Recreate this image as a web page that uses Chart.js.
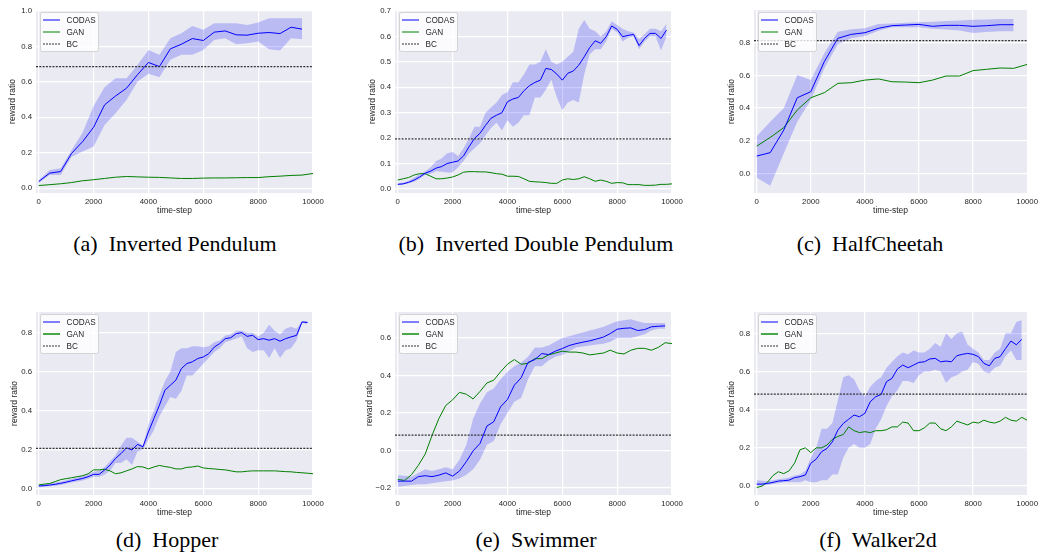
<!DOCTYPE html>
<html>
<head>
<meta charset="utf-8">
<script src="https://cdn.jsdelivr.net/npm/chart.js@4/dist/chart.umd.min.js"></script>
<style>
body { margin: 0; background: #fff; width: 1042px; height: 555px; position: relative; overflow: hidden; }
.panel { position: absolute; }
.cap { position: absolute; font-family: "Liberation Serif", "Times New Roman", serif; font-size: 22px; line-height: 1; color: #000; white-space: pre; transform: translateX(-50%); }
</style>
</head>
<body>
<div class="panel" style="left:0px;top:0px"><canvas id="pend" width="335" height="222"></canvas></div>
<div class="panel" style="left:350px;top:0px"><canvas id="dpend" width="340" height="222"></canvas></div>
<div class="panel" style="left:700px;top:0px"><canvas id="cheetah" width="342" height="222"></canvas></div>
<div class="panel" style="left:0px;top:300px"><canvas id="hopper" width="335" height="222"></canvas></div>
<div class="panel" style="left:350px;top:300px"><canvas id="swimmer" width="340" height="222"></canvas></div>
<div class="panel" style="left:700px;top:300px"><canvas id="walker" width="342" height="222"></canvas></div>

<div class="cap" style="left:175px;top:233px">(a)  Inverted Pendulum</div>
<div class="cap" style="left:536px;top:233px">(b)  Inverted Double Pendulum</div>
<div class="cap" style="left:870px;top:233px">(c)  HalfCheetah</div>
<div class="cap" style="left:167px;top:529px">(d)  Hopper</div>
<div class="cap" style="left:536px;top:529px">(e)  Swimmer</div>
<div class="cap" style="left:878px;top:529px">(f)  Walker2d</div>

<script>
// time steps (x values)
const steps400 = [0,400,800,1200,1600,2000,2400,2800,3200,3600,4000,4400,4800,5200,5600,6000,6400,6800,7200,7600,8000,8400,8800,9200,9600];
const steps400End = [...steps400, 10000];
const steps200 = [0,200,400,600,800,1000,1200,1400,1600,1800,2000,2200,2400,2600,2800,3000,3200,3400,3600,3800,4000,4200,4400,4600,4800,5000,5200,5400,5600,5800,6000,6200,6400,6600,6800,7000,7200,7400,7600,7800,8000,8200,8400,8600,8800,9000,9200,9400,9600,9800];
const steps200End = [...steps200, 10000];
const steps500 = [0,500,1000,1500,2000,2500,3000,3500,4000,4500,5000,5500,6000,6500,7000,7500,8000,8500,9000,9500];
const steps500End = [...steps500, 10000];
const steps250 = [0,250,500,750,1000,1250,1500,1750,2000,2250,2500,2750,3000,3250,3500,3750,4000,4250,4500,4750,5000,5250,5500,5750,6000,6250,6500,6750,7000,7250,7500,7750,8000,8250,8500,8750,9000,9250,9500,9750];
const steps250End = [...steps250, 10000];

// (a) Inverted Pendulum
const pendCodas = [0.038,0.085,0.094,0.197,0.263,0.344,0.47,0.52,0.564,0.64,0.709,0.686,0.786,0.812,0.844,0.833,0.88,0.887,0.865,0.863,0.874,0.878,0.872,0.908,0.897];
const pendHi = [0.045,0.103,0.113,0.216,0.314,0.464,0.57,0.62,0.62,0.695,0.78,0.752,0.846,0.874,0.915,0.893,0.93,0.93,0.93,0.921,0.934,0.959,0.959,0.959,0.959];
const pendLo = [0.03,0.075,0.075,0.178,0.207,0.235,0.357,0.423,0.498,0.60,0.645,0.626,0.724,0.752,0.752,0.78,0.836,0.846,0.812,0.818,0.827,0.784,0.776,0.846,0.84];
const pendGan = [0.015,0.02,0.025,0.032,0.042,0.048,0.055,0.062,0.066,0.064,0.062,0.061,0.058,0.055,0.055,0.057,0.058,0.058,0.059,0.06,0.06,0.065,0.068,0.072,0.074,0.083];
const pendBc = 0.686;

// (b) Inverted Double Pendulum
const dpendCodas = [0.018,0.02,0.026,0.035,0.047,0.062,0.07,0.082,0.088,0.10,0.105,0.11,0.13,0.166,0.199,0.219,0.25,0.278,0.29,0.30,0.343,0.354,0.36,0.386,0.406,0.419,0.428,0.474,0.47,0.452,0.428,0.455,0.464,0.487,0.52,0.556,0.583,0.573,0.599,0.641,0.628,0.599,0.604,0.608,0.564,0.592,0.612,0.612,0.592,0.625];
const dpendHi = [0.022,0.025,0.032,0.045,0.058,0.07,0.085,0.11,0.12,0.14,0.145,0.13,0.16,0.2,0.245,0.245,0.30,0.32,0.34,0.37,0.38,0.42,0.42,0.45,0.49,0.49,0.5,0.55,0.5,0.49,0.5,0.52,0.54,0.63,0.665,0.63,0.62,0.6,0.62,0.66,0.645,0.63,0.62,0.615,0.59,0.61,0.63,0.63,0.62,0.65];
const dpendLo = [0.015,0.017,0.022,0.028,0.04,0.055,0.06,0.07,0.068,0.065,0.065,0.085,0.11,0.14,0.16,0.18,0.21,0.24,0.26,0.23,0.27,0.245,0.26,0.29,0.29,0.36,0.36,0.39,0.43,0.36,0.31,0.34,0.35,0.34,0.45,0.53,0.55,0.55,0.58,0.63,0.615,0.58,0.595,0.60,0.55,0.58,0.6,0.6,0.545,0.6];
const dpendGan = [0.035,0.04,0.045,0.055,0.06,0.06,0.05,0.04,0.04,0.043,0.047,0.055,0.066,0.068,0.068,0.067,0.067,0.064,0.06,0.058,0.05,0.05,0.049,0.04,0.03,0.028,0.027,0.025,0.022,0.022,0.035,0.04,0.037,0.04,0.048,0.04,0.03,0.035,0.03,0.022,0.025,0.024,0.017,0.017,0.017,0.014,0.014,0.015,0.018,0.018,0.02];
const dpendBc = 0.197;

// (c) HalfCheetah
const cheetahCodas = [0.106,0.127,0.265,0.463,0.5,0.684,0.827,0.851,0.861,0.888,0.904,0.908,0.912,0.90,0.906,0.906,0.90,0.904,0.91,0.91];
const cheetahHi = [0.228,0.316,0.398,0.602,0.571,0.735,0.867,0.882,0.888,0.914,0.918,0.922,0.925,0.928,0.932,0.935,0.94,0.942,0.945,0.945];
const cheetahLo = [-0.027,-0.075,0.122,0.316,0.449,0.643,0.79,0.827,0.841,0.873,0.894,0.894,0.894,0.885,0.88,0.875,0.86,0.865,0.87,0.87];
const cheetahGan = [0.167,0.22,0.28,0.388,0.463,0.494,0.551,0.555,0.571,0.578,0.561,0.559,0.555,0.571,0.596,0.596,0.629,0.637,0.645,0.643,0.667];
const cheetahBc = 0.812;

// (d) Hopper
const hopperCodas = [0.012,0.014,0.017,0.021,0.026,0.032,0.039,0.045,0.051,0.06,0.072,0.072,0.094,0.12,0.154,0.179,0.208,0.197,0.226,0.214,0.29,0.359,0.427,0.504,0.53,0.556,0.615,0.641,0.65,0.667,0.675,0.692,0.726,0.744,0.769,0.774,0.795,0.80,0.781,0.786,0.764,0.769,0.761,0.769,0.756,0.769,0.778,0.786,0.855,0.852];
const hopperHi = [0.02,0.022,0.025,0.03,0.035,0.042,0.05,0.056,0.063,0.072,0.085,0.09,0.11,0.14,0.17,0.22,0.26,0.26,0.24,0.22,0.33,0.40,0.48,0.55,0.60,0.70,0.72,0.72,0.73,0.73,0.725,0.73,0.75,0.76,0.785,0.79,0.81,0.81,0.80,0.80,0.78,0.80,0.84,0.81,0.79,0.82,0.83,0.82,0.86,0.86];
const hopperLo = [0.008,0.009,0.011,0.014,0.018,0.024,0.03,0.035,0.04,0.05,0.06,0.06,0.07,0.09,0.13,0.13,0.15,0.12,0.19,0.20,0.25,0.30,0.37,0.42,0.47,0.46,0.50,0.58,0.58,0.61,0.64,0.67,0.70,0.72,0.75,0.76,0.77,0.78,0.72,0.70,0.71,0.71,0.67,0.72,0.67,0.71,0.72,0.76,0.85,0.845];
const hopperGan = [0.018,0.022,0.025,0.035,0.045,0.05,0.055,0.06,0.065,0.075,0.095,0.095,0.098,0.09,0.075,0.08,0.09,0.1,0.112,0.11,0.1,0.11,0.118,0.112,0.108,0.1,0.1,0.108,0.11,0.115,0.105,0.102,0.1,0.097,0.095,0.09,0.085,0.085,0.088,0.09,0.09,0.09,0.09,0.09,0.088,0.086,0.085,0.082,0.08,0.078,0.075];
const hopperBc = 0.205;

// (e) Swimmer
const swimCodas = [-0.164,-0.164,-0.164,-0.14,-0.135,-0.14,-0.132,-0.12,-0.137,-0.11,-0.06,-0.002,0.037,0.13,0.153,0.233,0.272,0.348,0.388,0.47,0.485,0.517,0.512,0.53,0.544,0.56,0.57,0.578,0.585,0.595,0.605,0.624,0.647,0.652,0.654,0.64,0.645,0.66,0.663,0.665];
const swimHi = [-0.132,-0.135,-0.14,-0.12,-0.1,-0.11,-0.1,-0.09,-0.1,-0.05,0.03,0.17,0.25,0.31,0.33,0.38,0.42,0.45,0.47,0.5,0.55,0.55,0.56,0.58,0.60,0.61,0.62,0.63,0.64,0.65,0.66,0.675,0.69,0.695,0.70,0.69,0.68,0.68,0.68,0.68];
const swimLo = [-0.194,-0.19,-0.185,-0.18,-0.18,-0.175,-0.17,-0.165,-0.16,-0.15,-0.13,-0.1,-0.05,0.03,0.05,0.14,0.2,0.26,0.28,0.38,0.45,0.45,0.48,0.5,0.51,0.53,0.55,0.555,0.56,0.565,0.57,0.58,0.6,0.6,0.6,0.61,0.62,0.64,0.65,0.65];
const swimGan = [-0.155,-0.16,-0.13,-0.08,-0.02,0.08,0.17,0.24,0.27,0.31,0.3,0.275,0.315,0.36,0.375,0.42,0.46,0.485,0.46,0.465,0.49,0.49,0.51,0.52,0.53,0.525,0.525,0.52,0.51,0.515,0.52,0.535,0.52,0.515,0.535,0.545,0.545,0.535,0.55,0.575,0.57];
const swimBc = 0.082;

// (f) Walker2d
const walkerCodas = [0.01,0.01,0.014,0.019,0.026,0.028,0.031,0.044,0.049,0.058,0.119,0.141,0.18,0.197,0.232,0.293,0.328,0.35,0.372,0.363,0.381,0.442,0.468,0.48,0.547,0.564,0.613,0.634,0.62,0.634,0.648,0.651,0.666,0.669,0.651,0.655,0.651,0.683,0.69,0.695,0.69,0.678,0.643,0.63,0.669,0.678,0.72,0.76,0.74,0.769];
const walkerHi = [0.03,0.028,0.025,0.03,0.035,0.04,0.045,0.055,0.06,0.08,0.15,0.2,0.3,0.3,0.33,0.45,0.57,0.58,0.56,0.5,0.47,0.52,0.55,0.57,0.62,0.65,0.68,0.70,0.69,0.71,0.70,0.70,0.72,0.75,0.73,0.80,0.77,0.80,0.81,0.74,0.72,0.70,0.66,0.66,0.70,0.72,0.80,0.80,0.86,0.87];
const walkerLo = [0.0,0.0,0.005,0.01,0.015,0.02,0.02,0.02,0.02,0.03,0.02,0.02,0.03,0.03,0.06,0.06,0.15,0.2,0.22,0.2,0.2,0.22,0.30,0.35,0.42,0.47,0.50,0.55,0.55,0.54,0.58,0.60,0.60,0.61,0.60,0.54,0.57,0.58,0.60,0.61,0.65,0.64,0.60,0.59,0.62,0.63,0.68,0.71,0.66,0.66];
const walkerGan = [-0.008,0.0,0.02,0.055,0.075,0.065,0.08,0.12,0.19,0.2,0.175,0.2,0.2,0.215,0.245,0.26,0.27,0.31,0.29,0.28,0.285,0.28,0.29,0.29,0.295,0.31,0.31,0.335,0.33,0.29,0.29,0.305,0.33,0.33,0.3,0.29,0.31,0.34,0.33,0.32,0.335,0.33,0.345,0.335,0.33,0.34,0.36,0.345,0.34,0.36,0.345];
const walkerBc = 0.482;

// axis ticks
const xTicks = [0, 2000, 4000, 6000, 8000, 10000];
const X_MIN = -100, X_MAX = 10000;
const legendNames = ['CODAS', 'GAN', 'BC'];

const FONT = '"Liberation Sans", Arial, sans-serif';
const TEXT = '#262626';

const pts = (xs, ys) => ys.map((y, i) => ({ x: xs[i], y }));

// gray seaborn background
const plotBg = {
    id: 'plotBg',
    beforeDraw(chart) {
        const { ctx, chartArea: a } = chart;
        ctx.save();
        ctx.fillStyle = '#EAEAF2';
        ctx.fillRect(a.left, a.top, a.right - a.left, a.bottom - a.top);
        ctx.restore();
    }
};

// legend box inside the plot, upper left
const boxLegend = {
    id: 'boxLegend',
    afterDraw(chart, args, opts) {
        const { ctx, chartArea: a } = chart;
        const x = a.left + 4.5, y = a.top + 2.5, w = 58, h = 39;
        ctx.save();
        ctx.fillStyle = 'rgba(255,255,255,0.8)';
        ctx.strokeStyle = '#cccccc';
        ctx.lineWidth = 0.8;
        ctx.beginPath();
        if (ctx.roundRect) ctx.roundRect(x, y, w, h, 2); else ctx.rect(x, y, w, h);
        ctx.fill();
        ctx.stroke();
        const styles = [
            { color: '#0000ff', width: 1, dash: [] },
            { color: opts.ganColor, width: opts.ganWidth, dash: [] },
            { color: '#333333', width: 1, dash: [2, 1] }
        ];
        ctx.font = '8.2px ' + FONT;
        ctx.textBaseline = 'middle';
        legendNames.forEach((name, i) => {
            const ly = y + 7.5 + i * 12;
            ctx.strokeStyle = styles[i].color;
            ctx.lineWidth = styles[i].width;
            ctx.setLineDash(styles[i].dash);
            ctx.beginPath();
            ctx.moveTo(x + 2.5, ly);
            ctx.lineTo(x + 19.5, ly);
            ctx.stroke();
            ctx.fillStyle = TEXT;
            ctx.fillText(name, x + 26, ly + 0.5);
        });
        ctx.restore();
    }
};

function makePanel(id, g, d) {
    const ctx = document.getElementById(id).getContext('2d');
    const xAxisH = g.height - (g.plotBottom - g.top);
    new Chart(ctx, {
        type: 'line',
        data: {
            datasets: [
                { data: pts(d.steps, d.hi), borderWidth: 0, pointRadius: 0, backgroundColor: 'rgba(0,0,255,0.2)', fill: '+1', order: 3 },
                { data: pts(d.steps, d.lo), borderWidth: 0, pointRadius: 0, fill: false, order: 3 },
                { data: pts(d.ganSteps, d.gan), borderColor: '#008000', borderWidth: 1, pointRadius: 0, fill: false, order: 2 },
                { data: pts(d.steps, d.codas), borderColor: '#0000ff', borderWidth: 1, pointRadius: 0, fill: false, order: 1 },
                { data: [{ x: X_MIN, y: d.bc }, { x: X_MAX, y: d.bc }], borderColor: '#333333', borderWidth: 1.2, borderDash: [2, 1.3], pointRadius: 0, fill: false, order: 0 }
            ]
        },
        options: {
            responsive: false,
            animation: false,
            layout: { padding: { left: 0, bottom: 0, top: g.plotTop - g.top, right: g.width - (g.plotRight - g.left) } },
            plugins: {
                legend: { display: false },
                tooltip: { enabled: false },
                boxLegend: { ganColor: d.legendGan, ganWidth: d.legendGanWidth }
            },
            scales: {
                x: {
                    type: 'linear', min: X_MIN, max: X_MAX,
                    afterBuildTicks: s => { s.ticks = xTicks.map(v => ({ value: v })); },
                    afterFit: s => { s.height = xAxisH; },
                    grid: { color: '#ffffff', lineWidth: 1.2, drawTicks: false },
                    border: { display: false },
                    ticks: { font: { family: FONT, size: 7.8 }, color: TEXT, padding: 4, maxRotation: 0, autoSkip: false, callback: v => String(v) },
                    title: { display: true, text: 'time-step', font: { family: FONT, size: 8.5 }, color: TEXT, padding: { top: 0, bottom: xAxisH - 18 - 5.1 } }
                },
                y: {
                    min: g.yMin, max: g.yMax,
                    afterBuildTicks: s => { s.ticks = g.yTicks.map(v => ({ value: v })); },
                    afterFit: s => { s.width = g.plotLeft - g.left; },
                    grid: { color: '#ffffff', lineWidth: 1.2, drawTicks: false },
                    border: { display: false },
                    ticks: { font: { family: FONT, size: 7.8 }, color: TEXT, padding: 4, autoSkip: false, callback: v => (v < 0 ? '\u2212' : '') + Math.abs(v).toFixed(1) },
                    title: { display: true, text: 'reward ratio', font: { family: FONT, size: 8.5 }, color: TEXT, padding: { top: g.ylabelX - 5.1, bottom: 0 } }
                }
            }
        },
        plugins: [plotBg, boxLegend]
    });
}

const darkGan = '#008000', lightGan = '#4aa84a';

makePanel('pend',
    { left: 0, top: 0, width: 335, height: 222, plotLeft: 36, plotRight: 313, plotTop: 10, plotBottom: 193, ylabelX: 13, yMin: -0.027, yMax: 1.005, yTicks: [0, 0.2, 0.4, 0.6, 0.8, 1.0] },
    { steps: steps400, codas: pendCodas, hi: pendHi, lo: pendLo, ganSteps: steps400End, gan: pendGan, bc: pendBc, legendGan: darkGan, legendGanWidth: 1 });
makePanel('dpend',
    { left: 350, top: 0, width: 340, height: 222, plotLeft: 395, plotRight: 672, plotTop: 10, plotBottom: 193, ylabelX: 23, yMin: -0.016, yMax: 0.704, yTicks: [0, 0.1, 0.2, 0.3, 0.4, 0.5, 0.6, 0.7] },
    { steps: steps200, codas: dpendCodas, hi: dpendHi, lo: dpendLo, ganSteps: steps200End, gan: dpendGan, bc: dpendBc, legendGan: darkGan, legendGanWidth: 1 });
makePanel('cheetah',
    { left: 700, top: 0, width: 342, height: 222, plotLeft: 754, plotRight: 1030, plotTop: 10, plotBottom: 193, ylabelX: 32, yMin: -0.12, yMax: 1.0, yTicks: [0, 0.2, 0.4, 0.6, 0.8] },
    { steps: steps500, codas: cheetahCodas, hi: cheetahHi, lo: cheetahLo, ganSteps: steps500End, gan: cheetahGan, bc: cheetahBc, legendGan: darkGan, legendGanWidth: 1 });
makePanel('hopper',
    { left: 0, top: 300, width: 335, height: 222, plotLeft: 36, plotRight: 313, plotTop: 312, plotBottom: 495, ylabelX: 15, yMin: -0.034, yMax: 0.906, yTicks: [0, 0.2, 0.4, 0.6, 0.8] },
    { steps: steps200, codas: hopperCodas, hi: hopperHi, lo: hopperLo, ganSteps: steps200End, gan: hopperGan, bc: hopperBc, legendGan: lightGan, legendGanWidth: 2 });
makePanel('swimmer',
    { left: 350, top: 300, width: 340, height: 222, plotLeft: 395, plotRight: 672, plotTop: 312, plotBottom: 495, ylabelX: 20, yMin: -0.238, yMax: 0.739, yTicks: [-0.2, 0, 0.2, 0.4, 0.6] },
    { steps: steps250, codas: swimCodas, hi: swimHi, lo: swimLo, ganSteps: steps250End, gan: swimGan, bc: swimBc, legendGan: lightGan, legendGanWidth: 2 });
makePanel('walker',
    { left: 700, top: 300, width: 342, height: 222, plotLeft: 754, plotRight: 1030, plotTop: 312, plotBottom: 495, ylabelX: 32, yMin: -0.047, yMax: 0.912, yTicks: [0, 0.2, 0.4, 0.6, 0.8] },
    { steps: steps200, codas: walkerCodas, hi: walkerHi, lo: walkerLo, ganSteps: steps200End, gan: walkerGan, bc: walkerBc, legendGan: lightGan, legendGanWidth: 2 });
</script>
</body>
</html>
